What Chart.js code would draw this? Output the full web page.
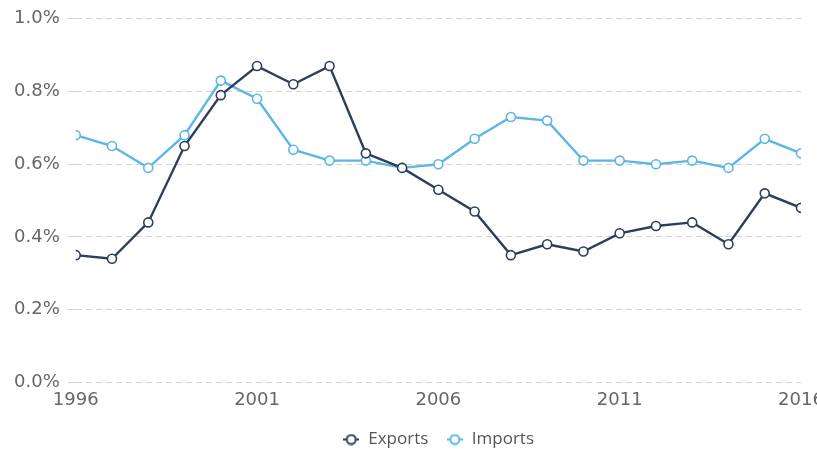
<!DOCTYPE html>
<html>
<head>
<meta charset="utf-8">
<script src="https://cdn.jsdelivr.net/npm/chart.js@4/dist/chart.umd.min.js"></script>
<style>
  html, body { margin: 0; padding: 0; background: #fff; }
  #wrap { width: 817px; height: 453px; }
</style>
</head>
<body>
<div id="wrap"><canvas id="chart"></canvas></div>
<script>
const years = [1996, 1997, 1998, 1999, 2000, 2001, 2002, 2003, 2004, 2005, 2006,
               2007, 2008, 2009, 2010, 2011, 2012, 2013, 2014, 2015, 2016];
const exportsShare = [0.35, 0.34, 0.44, 0.65, 0.79, 0.87, 0.82, 0.87, 0.63, 0.59, 0.53,
                      0.47, 0.35, 0.38, 0.36, 0.41, 0.43, 0.44, 0.38, 0.52, 0.48];
const importsShare = [0.68, 0.65, 0.59, 0.68, 0.83, 0.78, 0.64, 0.61, 0.61, 0.59, 0.60,
                      0.67, 0.73, 0.72, 0.61, 0.61, 0.60, 0.61, 0.59, 0.67, 0.63];
const seriesNames = ["Exports", "Imports"];
const seriesColors = ["#2c3e5a", "#5cb6e6"];

const tickFont = {family: "DejaVu Sans", size: 18};

// legend marker: short line with a hollow circle
function legendMarker(color) {
    const c = document.createElement("canvas");
    c.width = 16;
    c.height = 12;
    const ctx = c.getContext("2d");
    ctx.strokeStyle = color;
    ctx.lineWidth = 2;
    ctx.beginPath();
    ctx.moveTo(0, 6);
    ctx.lineTo(16, 6);
    ctx.stroke();
    ctx.fillStyle = "#fff";
    ctx.beginPath();
    ctx.arc(8, 6, 4.5, 0, Math.PI * 2);
    ctx.fill();
    ctx.stroke();
    return c;
}

// nudge the legend row down a little and centre it under the plot area
const legendTrim = {
    id: "legendTrim",
    beforeLayout(chart) {
        const lg = chart.legend;
        if (lg && !lg._trimmed) {
            const fit = lg.fit.bind(lg);
            lg.fit = function () { fit(); this.height -= 5; };
            lg._trimmed = true;
        }
    },
    afterLayout(chart) {
        const lg = chart.legend;
        const shift = (chart.chartArea.left + chart.chartArea.right) / 2 - (lg.left + lg.right) / 2;
        lg.left += shift;
        lg.right += shift;
    },
};

function toPoints(values) {
    return values.map((v, i) => ({x: years[i], y: v}));
}

const series = [exportsShare, importsShare];

new Chart(document.getElementById("chart"), {
    type: "line",
    data: {
        datasets: series.map((values, i) => ({
            label: seriesNames[i],
            data: toPoints(values),
            borderColor: seriesColors[i],
            backgroundColor: "#fff",
            borderWidth: 2.4,
            pointRadius: 4.5,
            pointBorderWidth: 1.6,
            pointBackgroundColor: "#fff",
            pointBorderColor: seriesColors[i],
            tension: 0,
        })),
    },
    options: {
        responsive: true,
        maintainAspectRatio: false,
        animation: false,
        layout: {padding: {top: 6, left: 6, right: 0, bottom: 0}},
        scales: {
            x: {
                type: "linear",
                min: 1996,
                max: 2016,
                grid: {display: false, drawTicks: false, tickLength: 0},
                border: {display: false},
                ticks: {
                    stepSize: 5,
                    padding: 7,
                    color: "#666",
                    font: tickFont,
                    maxRotation: 0,
                    callback: (v) => String(v),
                },
                // last year label runs off the right edge like the original
                afterFit: (scale) => {
                    scale.paddingRight = 16;
                    scale.height -= 5;
                },
            },
            y: {
                min: 0,
                max: 1.0,
                border: {display: false, dash: [6, 4]},
                grid: {
                    color: "#d4d4d4",
                    tickLength: 8,
                    lineWidth: 1,
                },
                ticks: {
                    stepSize: 0.2,
                    padding: 8,
                    color: "#666",
                    font: tickFont,
                    callback: (v) => v.toFixed(1) + "%",
                },
            },
        },
        plugins: {
            legend: {
                position: "bottom",
                labels: {
                    usePointStyle: true,
                    color: "#555",
                    font: {family: "Open Sans", size: 17},
                    padding: 18,
                    generateLabels: (chart) => chart.data.datasets.map((ds, i) => ({
                        text: ds.label,
                        pointStyle: legendMarker(seriesColors[i]),
                        fontColor: "#555",
                        datasetIndex: i,
                        hidden: !chart.isDatasetVisible(i),
                    })),
                },
            },
            tooltip: {enabled: false},
        },
    },
    plugins: [legendTrim],
});
</script>
</body>
</html>
